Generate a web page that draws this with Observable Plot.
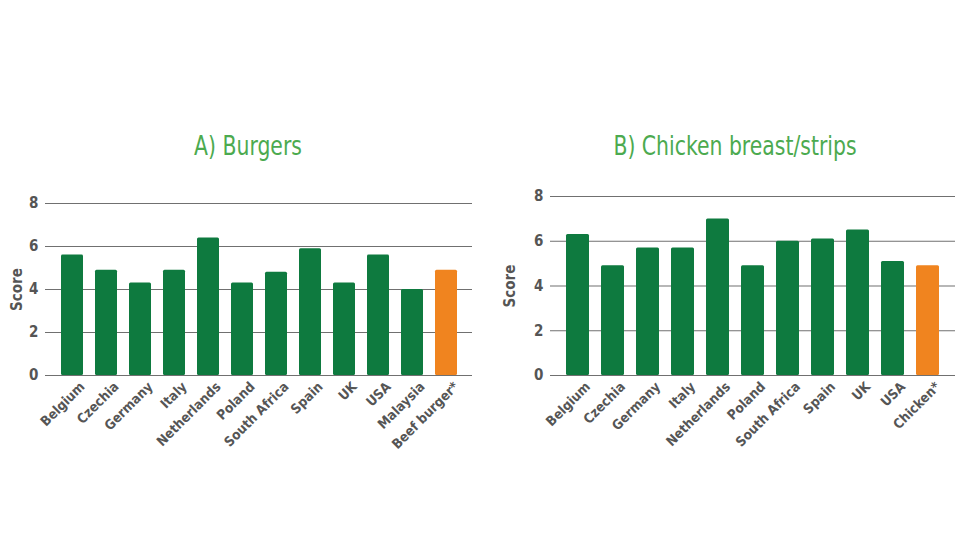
<!DOCTYPE html>
<html>
<head>
<meta charset="utf-8">
<script src="https://cdn.jsdelivr.net/npm/d3@7"></script>
<script src="https://cdn.jsdelivr.net/npm/@observablehq/plot@0.6"></script>
<style>
  html, body { margin: 0; padding: 0; background: #fff; width: 980px; height: 560px; overflow: hidden; }
  body { position: relative; font-family: "DejaVu Sans", sans-serif; font-stretch: condensed; }
  .title { position: absolute; color: #4caa4f; font-size: 27px; text-align: center; width: 480px; top: 130px; font-stretch: condensed; transform: scaleX(0.84); transform-origin: center; }
  .chart { position: absolute; top: 180px; }
  svg text { font-stretch: condensed; }
</style>
</head>
<body>
<div class="title" style="left:8px">A) Burgers</div>
<div class="title" style="left:495px">B) Chicken breast/strips</div>
<div class="chart" id="c1" style="left:0px"></div>
<div class="chart" id="c2" style="left:490px"></div>
<script>
const burgerCategories = ["Belgium","Czechia","Germany","Italy","Netherlands","Poland","South Africa","Spain","UK","USA","Malaysia","Beef burger*"];
const burgerScores = [5.6, 4.9, 4.3, 4.9, 6.4, 4.3, 4.8, 5.9, 4.3, 5.6, 4.0, 4.9];
const chickenCategories = ["Belgium","Czechia","Germany","Italy","Netherlands","Poland","South Africa","Spain","UK","USA","Chicken*"];
const chickenScores = [6.3, 4.9, 5.7, 5.7, 7.0, 4.9, 6.0, 6.1, 6.5, 5.1, 4.9];
const referenceItems = ["Beef burger*", "Chicken*"];
const yTicks = [0, 2, 4, 6, 8];

const GREEN = "#0e7a3f", ORANGE = "#f0841f";
const FONT = '"DejaVu Sans", sans-serif';

function makeChart(cats, vals, opts) {
  const data = cats.map((c, i) => ({cat: c, score: vals[i]}));
  return Plot.plot({
    width: opts.width,
    height: opts.height,
    marginLeft: opts.ml,
    marginRight: opts.mr,
    marginTop: opts.mt,
    marginBottom: opts.mb,
    style: {fontFamily: FONT, fontSize: "14px", color: "#555", background: "white"},
    x: {domain: cats, paddingInner: opts.pi, paddingOuter: opts.po, label: null},
    y: {domain: [0, 8], ticks: yTicks, label: null},
    marks: [
      Plot.ruleY(yTicks, {stroke: "#707070", strokeWidth: 1.1}),
      Plot.barY(data, {x: "cat", y: "score", fill: d => referenceItems.includes(d.cat) ? ORANGE : GREEN, rx: 1.5}),
      Plot.axisY({ticks: yTicks, tickSize: 0, tickPadding: 7, label: "Score", labelAnchor: "center", labelArrow: "none", labelOffset: opts.lo, fontSize: 15, fontWeight: 600, fill: "#555"}),
      Plot.axisX({tickSize: 0, tickPadding: 9, dx: 10, tickRotate: -45, label: null, fontSize: 13.5, fontWeight: 600, fill: "#555"})
    ]
  });
}

document.getElementById("c1").appendChild(makeChart(burgerCategories, burgerScores,
  {width: 480, height: 280, ml: 45, mr: 8, mt: 23, mb: 85, pi: 0.36, po: 0.35, lo: 34}));
document.getElementById("c2").appendChild(makeChart(chickenCategories, chickenScores,
  {width: 480, height: 280, ml: 60, mr: 15, mt: 16, mb: 85, pi: 0.35, po: 0.38, lo: 46}));
</script>
</body>
</html>
